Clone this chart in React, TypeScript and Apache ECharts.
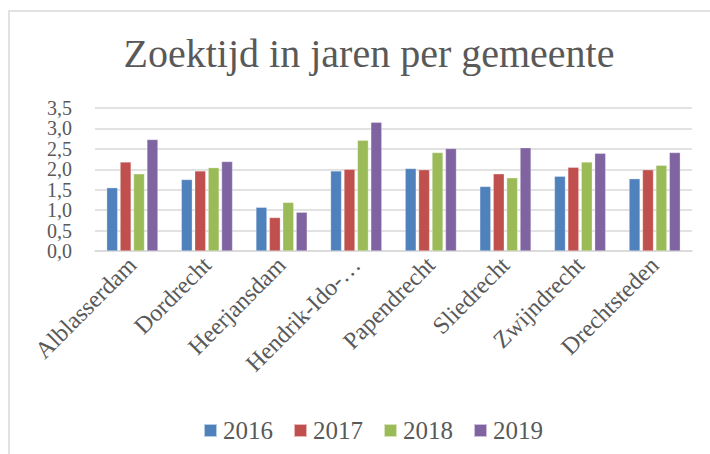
import React, { useEffect, useRef } from "react";
import * as echarts from "echarts";

const categories = [
  "Alblasserdam",
  "Dordrecht",
  "Heerjansdam",
  "Hendrik-Ido-…",
  "Papendrecht",
  "Sliedrecht",
  "Zwijndrecht",
  "Drechtsteden",
];
const years = ["2016", "2017", "2018", "2019"];
const values2016 = [1.55, 1.75, 1.07, 1.96, 2.02, 1.58, 1.83, 1.77];
const values2017 = [2.18, 1.96, 0.82, 2.0, 1.99, 1.89, 2.05, 1.99];
const values2018 = [1.89, 2.04, 1.19, 2.71, 2.41, 1.79, 2.18, 2.1];
const values2019 = [2.73, 2.19, 0.95, 3.15, 2.51, 2.53, 2.39, 2.41];
const seriesValues = [values2016, values2017, values2018, values2019];
const colors = ["#4F81BD", "#C0504D", "#9BBB59", "#8064A2"];

const FONT = "'Liberation Serif', 'Times New Roman', serif";

export default function App() {
  const ref = useRef<HTMLDivElement>(null);
  useEffect(() => {
    if (!ref.current) return;
    const chart = echarts.init(ref.current, undefined, { renderer: "svg" });
    chart.setOption({
      animation: false,
      backgroundColor: "#ffffff",
      title: {
        text: "Zoektijd in jaren per gemeente",
        left: 364,
        textAlign: "center",
        top: 28,
        textStyle: {
          fontFamily: FONT,
          fontSize: 40,
          fontWeight: "normal",
          color: "#595959",
        },
      },
      graphic: [
        {
          type: "rect",
          shape: { x: 9, y: 11, width: 800, height: 600 },
          style: { fill: "none", stroke: "#d9d9d9", lineWidth: 1.5 },
          silent: true,
        },
      ],
      legend: {
        left: 198,
        top: 413,
        itemWidth: 13,
        itemHeight: 13,
        itemGap: 20,
        icon: "rect",
        textStyle: { fontFamily: FONT, fontSize: 25, color: "#595959", padding: [0, 0, 0, 1] },
        data: years,
      },
      grid: { left: 95, right: 18, top: 108, bottom: 203 },
      xAxis: {
        type: "category",
        data: categories,
        axisLine: { lineStyle: { color: "#d9d9d9", width: 1.5 } },
        axisTick: { show: false },
        axisLabel: {
          rotate: 45,
          interval: 0,
          margin: 10,
          fontFamily: FONT,
          fontSize: 24,
          color: "#595959",
        },
      },
      yAxis: {
        type: "value",
        min: 0,
        max: 3.5,
        interval: 0.5,
        axisLine: { show: false },
        axisTick: { show: false },
        splitLine: { lineStyle: { color: "#d9d9d9", width: 1.5 } },
        axisLabel: {
          margin: 23,
          showMinLabel: true,
          showMaxLabel: true,
          hideOverlap: false,
          fontFamily: FONT,
          fontSize: 20,
          lineHeight: 19,
          color: "#595959",
          formatter: (v: number) => v.toFixed(1).replace(".", ","),
        },
      },
      series: years.map((y, i) => ({
        name: y,
        type: "bar",
        data: seriesValues[i],
        barWidth: 11,
        barGap: "22%",
        itemStyle: { color: colors[i], borderColor: "rgba(255,255,255,0.6)", borderWidth: 0.5 },
      })),
    });
    return () => chart.dispose();
  }, []);
  return (
    <div
      ref={ref}
      style={{ position: "fixed", left: 0, top: 0, width: 710, height: 454 }}
    />
  );
}
